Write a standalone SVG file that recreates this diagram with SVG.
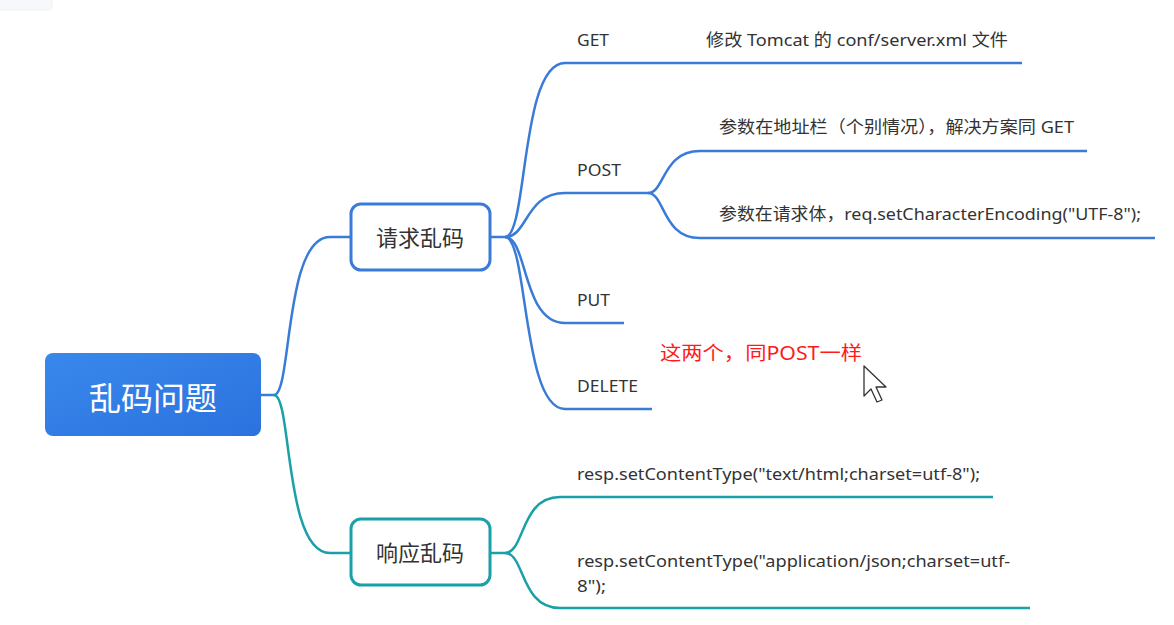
<svg xmlns="http://www.w3.org/2000/svg" width="1174" height="625" viewBox="0 0 1174 625">
<style>
.t{font-family:"Noto Sans","Noto Sans CJK SC",sans-serif;font-size:17px;fill:#333}
.b{fill:none;stroke:#3a7bd8;stroke-width:2.5}
.g{fill:none;stroke:#1aa0a8;stroke-width:2.5}
.n{font-family:"Noto Sans CJK SC",sans-serif;font-size:22px;fill:#333;text-anchor:middle}
</style>
<defs>
<linearGradient id="rg" x1="0" y1="0" x2="1" y2="1">
<stop offset="0" stop-color="#3988ec"/><stop offset="1" stop-color="#2b72de"/>
</linearGradient>
</defs>
<rect width="1174" height="625" fill="#fff"/>
<rect x="-4" y="-4" width="56" height="14" rx="3" fill="#f6f8fb" stroke="#eef1f5"/>
<g id="connectors">
<path class="b" d="M261,395 L274,395 C292,395 284,237 330,237 L350,237"/>
<path class="g" d="M274,395 C292,395 284,553 330,553 L350,553"/>
<path class="b" d="M491,237 L505,237 C528,237 520,63 565,63 L1022,63"/>
<path class="b" d="M505,237 C528,237 525,193 565,193 L648,193"/>
<path class="b" d="M505,237 C528,237 522,323 565,323 L624,323"/>
<path class="b" d="M505,237 C528,237 522,409 565,409 L652,409"/>
<path class="b" d="M648,193 C665,193 662,151 700,151 L1087,151"/>
<path class="b" d="M648,193 C665,193 662,238 700,238 L1155,238"/>
<path class="g" d="M491,553 L505,553 C525,553 520,497 560,497 L993,497"/>
<path class="g" d="M505,553 C525,553 520,608 560,608 L1030,608"/>
</g>
<g id="root">
<rect x="45" y="353" width="216" height="83" rx="8" fill="url(#rg)"/>
<text x="153" y="410" font-family="'Noto Sans CJK SC',sans-serif" font-size="32" fill="#fff" text-anchor="middle">乱码问题</text>
</g>
<g id="req">
<rect x="351" y="204" width="139" height="66" rx="10" fill="#fff" stroke="#3a7bd8" stroke-width="3"/>
<text class="n" x="420" y="246">请求乱码</text>
</g>
<g id="resp">
<rect x="351" y="519" width="139" height="66" rx="10" fill="#fff" stroke="#1aa0a8" stroke-width="3"/>
<text class="n" x="420" y="561">响应乱码</text>
</g>
<g id="get"><text class="t" x="577" y="46" textLength="32" lengthAdjust="spacingAndGlyphs">GET</text>
<text class="t" x="706" y="46" textLength="302" lengthAdjust="spacingAndGlyphs">修改 Tomcat 的 conf/server.xml 文件</text></g>
<g id="post"><text class="t" x="577" y="176" textLength="44" lengthAdjust="spacingAndGlyphs">POST</text></g>
<g id="post1"><text class="t" x="719" y="133" textLength="355" lengthAdjust="spacingAndGlyphs">参数在地址栏（个别情况），解决方案同 GET</text></g>
<g id="post2"><text class="t" x="719" y="220" textLength="422" lengthAdjust="spacingAndGlyphs">参数在请求体，req.setCharacterEncoding("UTF-8");</text></g>
<g id="put"><text class="t" x="577" y="306" textLength="33" lengthAdjust="spacingAndGlyphs">PUT</text></g>
<g id="delete"><text class="t" x="577" y="392" textLength="61" lengthAdjust="spacingAndGlyphs">DELETE</text></g>
<g id="resp1"><text class="t" x="577" y="480" textLength="403" lengthAdjust="spacingAndGlyphs">resp.setContentType("text/html;charset=utf-8");</text></g>
<g id="resp2"><text class="t" x="577" y="567" textLength="433" lengthAdjust="spacingAndGlyphs">resp.setContentType("application/json;charset=utf-</text>
<text class="t" x="577" y="592" textLength="29" lengthAdjust="spacingAndGlyphs">8");</text></g>
<g id="note"><text x="660" y="360" font-family="'Noto Sans','Noto Sans CJK SC',sans-serif" font-size="19" fill="#ff1a1a" textLength="202" lengthAdjust="spacingAndGlyphs">这两个，同POST一样</text></g>
<path d="M864,366 L864,396 L871,389 L877,402 L882,400 L876,387 L886,387 Z" fill="#fff" stroke="#333" stroke-width="1.3" stroke-linejoin="round"/>
</svg>
